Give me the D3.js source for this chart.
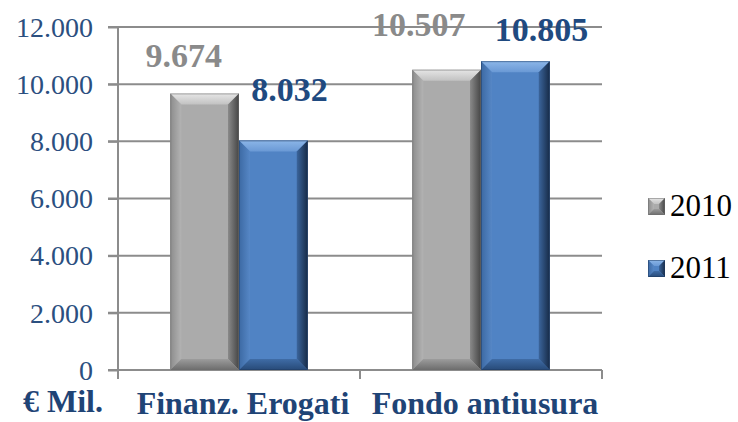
<!DOCTYPE html>
<html><head><meta charset="utf-8">
<script src="https://cdn.jsdelivr.net/npm/d3@7"></script>
<style>body{margin:0;background:#fff}svg{display:block}</style>
</head><body>
<script>
const categories = ["Finanz. Erogati", "Fondo antiusura"];
const seriesNames = ["2010", "2011"];
const values2010 = [9674, 10507];
const values2011 = [8032, 10805];
const valueLabels2010 = ["9.674", "10.507"];
const valueLabels2011 = ["8.032", "10.805"];
const yTicks = [0, 2000, 4000, 6000, 8000, 10000, 12000];
const yTickLabels = ["0", "2.000", "4.000", "6.000", "8.000", "10.000", "12.000"];
// label nudges (px) as in the original layout
const labelNudge2010 = [[-21, -38], [-28, -45]];
const labelNudge2011 = [[16, -51], [26, -31]];

const W = 738, H = 422;
const m = {left: 118, right: 136, top: 27, bottom: 52};
const svg = d3.select("body").append("svg").attr("width", W).attr("height", H);
const FONT = '"Liberation Serif", "Times New Roman", serif';

const defs = svg.append("defs");

const x0 = d3.scaleBand().domain(categories).range([m.left, W - m.right]).paddingInner(0).paddingOuter(0);
const x1 = d3.scaleBand().domain(seriesNames).range([0, x0.bandwidth()]).paddingOuter(0.76).paddingInner(0);
const y = d3.scaleLinear().domain([0, 12000]).range([H - m.bottom, m.top]);

const gridColor = "#8c8c8c";
svg.append("g").selectAll("line").data(yTicks).join("line")
  .attr("x1", m.left - 10).attr("x2", W - m.right)
  .attr("y1", d => y(d)).attr("y2", d => y(d))
  .attr("stroke", gridColor).attr("stroke-width", 2);

const yAxis = d3.axisLeft(y).tickValues(yTicks).tickFormat((d, i) => yTickLabels[i]).tickSize(10).tickPadding(15);
const gy = svg.append("g").attr("transform", `translate(${m.left},0)`).call(yAxis);
gy.select(".domain").attr("stroke", gridColor).attr("stroke-width", 2).attr("d", `M0,${m.top}V${H - m.bottom + 9}`);
gy.selectAll(".tick line").attr("stroke", gridColor).attr("stroke-width", 2);
gy.selectAll(".tick text").attr("fill", "#2b4f80").style("font-family", FONT).style("font-size", "28px").attr("dy", "0.33em");

const xTickPos = [m.left, m.left + x0.bandwidth(), W - m.right];
svg.append("line").attr("x1", m.left).attr("x2", W - m.right).attr("y1", y(0)).attr("y2", y(0))
  .attr("stroke", gridColor).attr("stroke-width", 2);
svg.append("g").selectAll("line").data(xTickPos).join("line")
  .attr("x1", d => d).attr("x2", d => d).attr("y1", y(0)).attr("y2", y(0) + 9)
  .attr("stroke", gridColor).attr("stroke-width", 2);

svg.append("g").selectAll("text").data(categories).join("text")
  .attr("x", d => x0(d) + x0.bandwidth() / 2 + 4).attr("y", H - 8)
  .attr("text-anchor", "middle").attr("fill", "#1f4476")
  .style("font-family", FONT).style("font-size", "32px").style("font-weight", "bold")
  .text(d => d);
svg.append("text").attr("x", 63).attr("y", H - 10).attr("text-anchor", "middle").attr("fill", "#1f4476")
  .style("font-family", FONT).style("font-size", "32px").style("font-weight", "bold").text("€ Mil.");

const pal = {
  "2010": {face: "#ababab", top: ["#e6e6e6", "#c2c2c2"], left: ["#8c8c8c", "#b3b3b3"], right: ["#8a8a8a", "#454545"], bottom: ["#9c9c9c", "#6c6c6c"], edge: "#6e6e6e"},
  "2011": {face: "#5083c4", top: ["#8cb6e8", "#6a99d5"], left: ["#3c69a3", "#5687c6"], right: ["#3b659c", "#172b47"], bottom: ["#3f6ca6", "#274a78"], edge: "#1d3a60"}
};
Object.entries(pal).forEach(([k, p]) => {
  const mk = (id, cols, x1_, y1_, x2_, y2_) => {
    const g = defs.append("linearGradient").attr("id", id)
      .attr("x1", x1_).attr("y1", y1_).attr("x2", x2_).attr("y2", y2_);
    g.append("stop").attr("offset", 0).attr("stop-color", cols[0]);
    g.append("stop").attr("offset", 1).attr("stop-color", cols[1]);
  };
  mk(`g${k}top`, p.top, 0, 0, 0, 1);
  mk(`g${k}left`, p.left, 0, 0, 1, 0);
  mk(`g${k}right`, p.right, 0, 0, 1, 0);
  mk(`g${k}bottom`, p.bottom, 0, 0, 0, 1);
});

function bevelBar(g, x, yTop, w, h, key, dd) {
  const p = pal[key];
  const d = Math.min(dd, h / 2, w / 2);
  const xl = x, xr = x + w, yt = yTop, yb = yTop + h;
  g.append("rect").attr("x", xl).attr("y", yt).attr("width", w).attr("height", h).attr("fill", p.face);
  const poly = (pts, fill) => g.append("polygon").attr("points", pts.map(q => q.join(",")).join(" ")).attr("fill", fill);
  poly([[xl, yt], [xr, yt], [xr - d, yt + d], [xl + d, yt + d]], `url(#g${key}top)`);
  poly([[xl, yt], [xl + d, yt + d], [xl + d, yb - d], [xl, yb]], `url(#g${key}left)`);
  poly([[xr, yt], [xr, yb], [xr - d, yb - d], [xr - d, yt + d]], `url(#g${key}right)`);
  poly([[xl, yb], [xl + d, yb - d], [xr - d, yb - d], [xr, yb]], `url(#g${key}bottom)`);
  g.append("rect").attr("x", xl + 0.5).attr("y", yt + 0.5).attr("width", w - 1).attr("height", h - 1)
    .attr("fill", "none").attr("stroke", p.edge).attr("stroke-opacity", 0.5).attr("stroke-width", 1);
}

const series = [
  {name: "2010", vals: values2010, labels: valueLabels2010, nudge: labelNudge2010, color: "#8a8a8a"},
  {name: "2011", vals: values2011, labels: valueLabels2011, nudge: labelNudge2011, color: "#1f4a80"}
];
const barsG = svg.append("g");
series.forEach(s => {
  categories.forEach((c, i) => {
    const bx = x0(c) + x1(s.name);
    const v = s.vals[i];
    bevelBar(barsG, bx, y(v), x1.bandwidth(), y(0) - y(v), s.name, 11);
  });
});
series.forEach(s => {
  categories.forEach((c, i) => {
    const bx = x0(c) + x1(s.name) + x1.bandwidth() / 2;
    svg.append("text").attr("x", bx + s.nudge[i][0]).attr("y", y(s.vals[i]) + s.nudge[i][1])
      .attr("text-anchor", "middle").attr("dy", "0.33em").attr("fill", s.color)
      .style("font-family", FONT).style("font-size", "34px").style("font-weight", "bold")
      .text(s.labels[i]);
  });
});

const lg = svg.append("g");
seriesNames.forEach((n, i) => {
  const ly = 206 + i * 62;
  bevelBar(lg, 648, ly - 8, 17, 17, n, 6);
  lg.append("text").attr("x", 670).attr("y", ly).attr("dy", "0.33em").attr("fill", "#000")
    .style("font-family", FONT).style("font-size", "31px").text(n);
});
</script>
</body></html>
